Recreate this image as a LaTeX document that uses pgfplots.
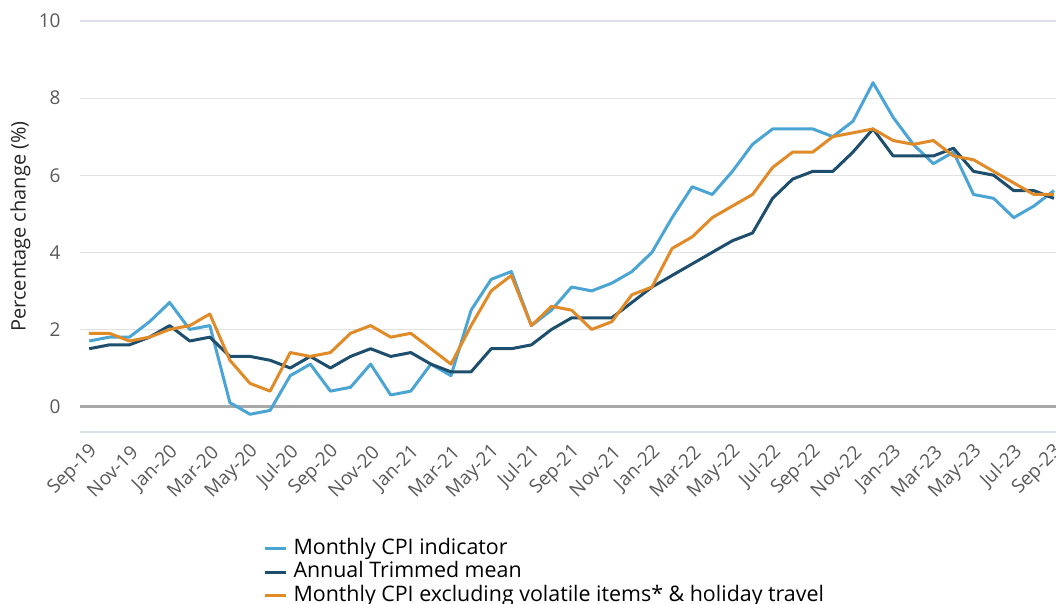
\documentclass[border=0pt]{standalone}
\usepackage{pgfplots}
\usepackage{pgfplotstable}
\pgfplotsset{compat=1.18}
\usepackage{fontspec}
\setmainfont{Open Sans}
\definecolor{cpiblue}{RGB}{75,165,212}
\definecolor{tmblue}{RGB}{30,78,110}
\definecolor{exorange}{RGB}{225,138,40}
\definecolor{gridgrey}{RGB}{226,226,226}
\definecolor{zerogrey}{RGB}{168,168,168}
\definecolor{labelgrey}{RGB}{89,89,89}
\definecolor{axisline}{RGB}{218,224,230}

\pgfplotstableread{
idx cpi tm ex
0 1.7 1.5 1.9
1 1.8 1.6 1.9
2 1.8 1.6 1.7
3 2.2 1.8 1.8
4 2.7 2.1 2.0
5 2.0 1.7 2.1
6 2.1 1.8 2.4
7 0.1 1.3 1.2
8 -0.2 1.3 0.6
9 -0.1 1.2 0.4
10 0.8 1.0 1.4
11 1.1 1.3 1.3
12 0.4 1.0 1.4
13 0.5 1.3 1.9
14 1.1 1.5 2.1
15 0.3 1.3 1.8
16 0.4 1.4 1.9
17 1.1 1.1 1.5
18 0.8 0.9 1.1
19 2.5 0.9 2.1
20 3.3 1.5 3.0
21 3.5 1.5 3.4
22 2.1 1.6 2.1
23 2.5 2.0 2.6
24 3.1 2.3 2.5
25 3.0 2.3 2.0
26 3.2 2.3 2.2
27 3.5 2.7 2.9
28 4.0 3.1 3.1
29 4.9 3.4 4.1
30 5.7 3.7 4.4
31 5.5 4.0 4.9
32 6.1 4.3 5.2
33 6.8 4.5 5.5
34 7.2 5.4 6.2
35 7.2 5.9 6.6
36 7.2 6.1 6.6
37 7.0 6.1 7.0
38 7.4 6.6 7.1
39 8.4 7.2 7.2
40 7.5 6.5 6.9
41 6.8 6.5 6.8
42 6.3 6.5 6.9
43 6.6 6.7 6.5
44 5.5 6.1 6.4
45 5.4 6.0 6.1
46 4.9 5.6 5.8
47 5.2 5.6 5.5
48 5.6 5.4 5.5
}\data

\begin{document}
\begin{tikzpicture}
\path[use as bounding box] (-40pt,-86pt) rectangle (488pt,216pt);
\begin{axis}[
  at={(0pt,0pt)}, anchor=south west,
  scale only axis, width=492pt, height=205.5pt,
  xmin=-0.46, xmax=48.5, ymin=-0.66, ymax=10,
  separate axis lines,
  x axis line style={draw=axisline, line width=0.6pt},
  y axis line style={draw=none},
  major tick length=0pt,
  /pgf/number format/assume math mode=true,
  ytick={0,2,4,6,8,10},
  ymajorgrids,
  grid style={gridgrey, line width=0.6pt},
  extra y ticks={0},
  extra y tick labels={},
  extra y tick style={grid style={zerogrey, line width=1.2pt}},
  yticklabel style={font=\fontsize{9.5}{11}\selectfont, text=labelgrey, inner sep=0pt, anchor=east, xshift=-9.5pt},
  xtick={0,2,...,48},
  xticklabels={Sep-19,Nov-19,Jan-20,Mar-20,May-20,Jul-20,Sep-20,Nov-20,Jan-21,Mar-21,May-21,Jul-21,Sep-21,Nov-21,Jan-22,Mar-22,May-22,Jul-22,Sep-22,Nov-22,Jan-23,Mar-23,May-23,Jul-23,Sep-23},
  xticklabel style={font=\fontsize{9.5}{11}\selectfont, text=labelgrey, xshift=2.7pt, yshift=-8.3pt, rotate=45, anchor=east, inner sep=0pt},
  ylabel={Percentage change (\%)},
  ylabel style={at={(axis description cs:-0.0605,0.5)}, anchor=center, font=\fontsize{10}{12}\selectfont, text=black!85},
  legend style={at={(axis description cs:0.18,-0.248)}, anchor=north west, draw=none, fill=none,
    font=\fontsize{10.7}{12}\selectfont, row sep=1.2pt,
    nodes={inner ysep=0pt, inner xsep=3pt, text height=8pt, text depth=2.5pt}},
  legend cell align=left,
  legend image code/.code={\draw[#1, line width=1.5pt] (0pt,0pt) -- (10.5pt,0pt);},
  every axis plot/.append style={line width=1.5pt, line join=round},
]
\addplot[cpiblue] table[x=idx, y=cpi] {\data};
\addplot[tmblue] table[x=idx, y=tm] {\data};
\addplot[exorange] table[x=idx, y=ex] {\data};
\legend{Monthly CPI indicator, Annual Trimmed mean, Monthly CPI excluding volatile items* \& holiday travel}
\end{axis}
\end{tikzpicture}
\end{document}
